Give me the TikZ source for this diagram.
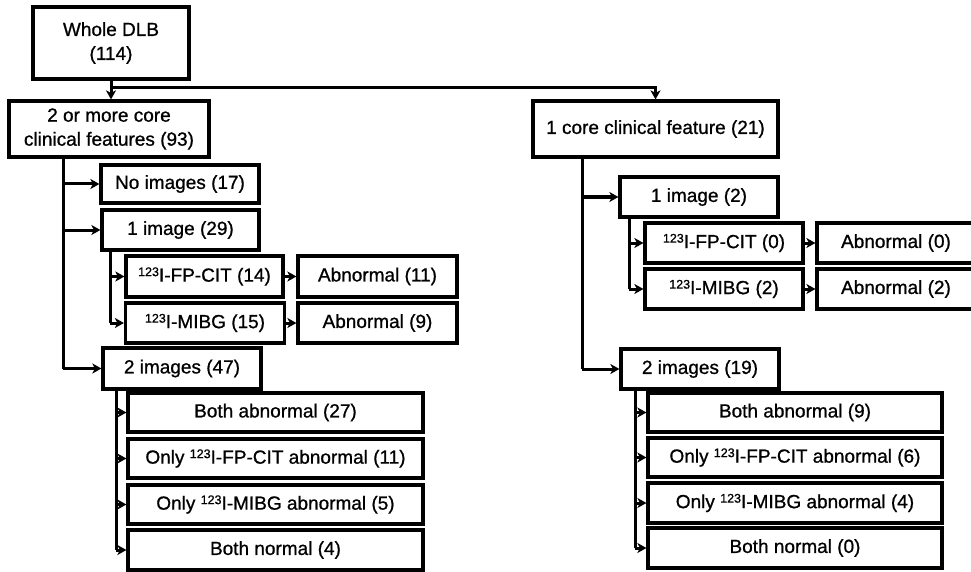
\documentclass[tikz,border=0pt]{standalone}
\usepackage{fontspec}
\setmainfont{Liberation Sans}
\newfontface\boxfont{Liberation Sans}[FakeBold=0.9]
\usetikzlibrary{arrows.meta,calc}
\newcommand{\iso}{\raisebox{0.55ex}{\fontsize{12.5}{12.5}\selectfont 123}I}
\begin{document}
\begin{tikzpicture}[x=1pt,y=-1pt,
  box/.style={draw, line width=3.2pt, inner sep=0pt, align=center,
    font=\boxfont\fontsize{19}{24}\selectfont},
  arr/.style={line width=3pt, -{Stealth[length=9pt,width=10pt,inset=2.5pt]}},
  ln/.style={line width=3pt}]
\useasboundingbox (0,0) rectangle (971,572);
% left
\node[box, minimum width=156, minimum height=72] (whole) at (111,43) {Whole DLB\\(114)};
\node[box, minimum width=200, minimum height=56] (two) at (109,129) {2 or more core\\clinical features (93)};
\node[box, minimum width=158, minimum height=38] (noimg) at (180,184) {No images (17)};
\node[box, minimum width=157, minimum height=40] (img1) at (180.5,230) {1 image (29)};
\node[box, minimum width=157, minimum height=41] (fp1) at (204.5,276.5) {\iso-FP-CIT (14)};
\node[box, minimum width=159, minimum height=40] (mi1) at (205,323) {\iso-MIBG (15)};
\node[box, minimum width=159, minimum height=41] (ab11) at (377.5,276.5) {Abnormal (11)};
\node[box, minimum width=159, minimum height=40] (ab9) at (377.5,323) {Abnormal (9)};
\node[box, minimum width=158, minimum height=41] (img2) at (182,368.5) {2 images (47)};
\node[box, minimum width=295, minimum height=39] (b27) at (275.5,412.5) {Both abnormal (27)};
\node[box, minimum width=295, minimum height=39] (fp11) at (275.5,458.5) {Only \iso-FP-CIT abnormal (11)};
\node[box, minimum width=295, minimum height=39] (mi5) at (275.5,504.5) {Only \iso-MIBG abnormal (5)};
\node[box, minimum width=295, minimum height=40] (bn4) at (275.5,550) {Both normal (4)};
% right
\node[box, minimum width=245, minimum height=56] (one) at (655.5,129) {1 core clinical feature (21)};
\node[box, minimum width=158, minimum height=40] (rimg1) at (699,197) {1 image (2)};
\node[box, minimum width=158, minimum height=40] (rfp) at (724,243) {\iso-FP-CIT (0)};
\node[box, minimum width=158, minimum height=40] (rmi) at (724,289) {\iso-MIBG (2)};
\node[box, minimum width=158, minimum height=40] (rab0) at (896,243) {Abnormal (0)};
\node[box, minimum width=158, minimum height=40] (rab2) at (896,289) {Abnormal (2)};
\node[box, minimum width=158, minimum height=40] (r2img) at (700,369) {2 images (19)};
\node[box, minimum width=294, minimum height=39] (rb9) at (795,412.5) {Both abnormal (9)};
\node[box, minimum width=294, minimum height=39] (rfp6) at (795,457.5) {Only \iso-FP-CIT abnormal (6)};
\node[box, minimum width=294, minimum height=40] (rmi4) at (795,503) {Only \iso-MIBG abnormal (4)};
\node[box, minimum width=294, minimum height=40] (rbn0) at (795,548) {Both normal (0)};
% connectors top
\coordinate (j0) at ($(whole.south)+(0,7)$);
\draw[arr] (whole.south) -- (whole.south |- two.north);
\draw[ln] (whole.south) -- (j0);
\draw[arr] (j0) -| (one.north);
% left trunk
\coordinate (lt) at (63,157);
\draw[ln] (lt) -- (63,368.5);
\draw[arr] (lt |- noimg.west) -- (noimg.west);
\draw[arr] (lt |- img1.west) -- (img1.west);
\draw[arr] (lt |- img2.west) -- (img2.west);
% img1 sub trunk
\coordinate (s1) at (110,250);
\draw[ln] (s1) -- (110,323);
\draw[arr] (s1 |- fp1.west) -- (fp1.west);
\draw[arr] (s1 |- mi1.west) -- (mi1.west);
\draw[arr] (fp1.east) -- (ab11.west);
\draw[arr] (mi1.east) -- (ab9.west);
% img2 sub trunk
\coordinate (s2) at (116,389);
\draw[ln] (s2) -- (116,550);
\draw[arr] (s2 |- b27.west) -- (b27.west);
\draw[arr] (s2 |- fp11.west) -- (fp11.west);
\draw[arr] (s2 |- mi5.west) -- (mi5.west);
\draw[arr] (s2 |- bn4.west) -- (bn4.west);
% right trunk
\coordinate (rt) at (582,157);
\draw[ln] (rt) -- (582,369);
\draw[arr] (rt |- rimg1.west) -- (rimg1.west);
\draw[arr] (rt |- r2img.west) -- (r2img.west);
\coordinate (s3) at (629,217);
\draw[ln] (s3) -- (629,289);
\draw[arr] (s3 |- rfp.west) -- (rfp.west);
\draw[arr] (s3 |- rmi.west) -- (rmi.west);
\draw[arr] (rfp.east) -- (rab0.west);
\draw[arr] (rmi.east) -- (rab2.west);
\coordinate (s4) at (635,389);
\draw[ln] (s4) -- (635,548);
\draw[arr] (s4 |- rb9.west) -- (rb9.west);
\draw[arr] (s4 |- rfp6.west) -- (rfp6.west);
\draw[arr] (s4 |- rmi4.west) -- (rmi4.west);
\draw[arr] (s4 |- rbn0.west) -- (rbn0.west);
\end{tikzpicture}
\end{document}
